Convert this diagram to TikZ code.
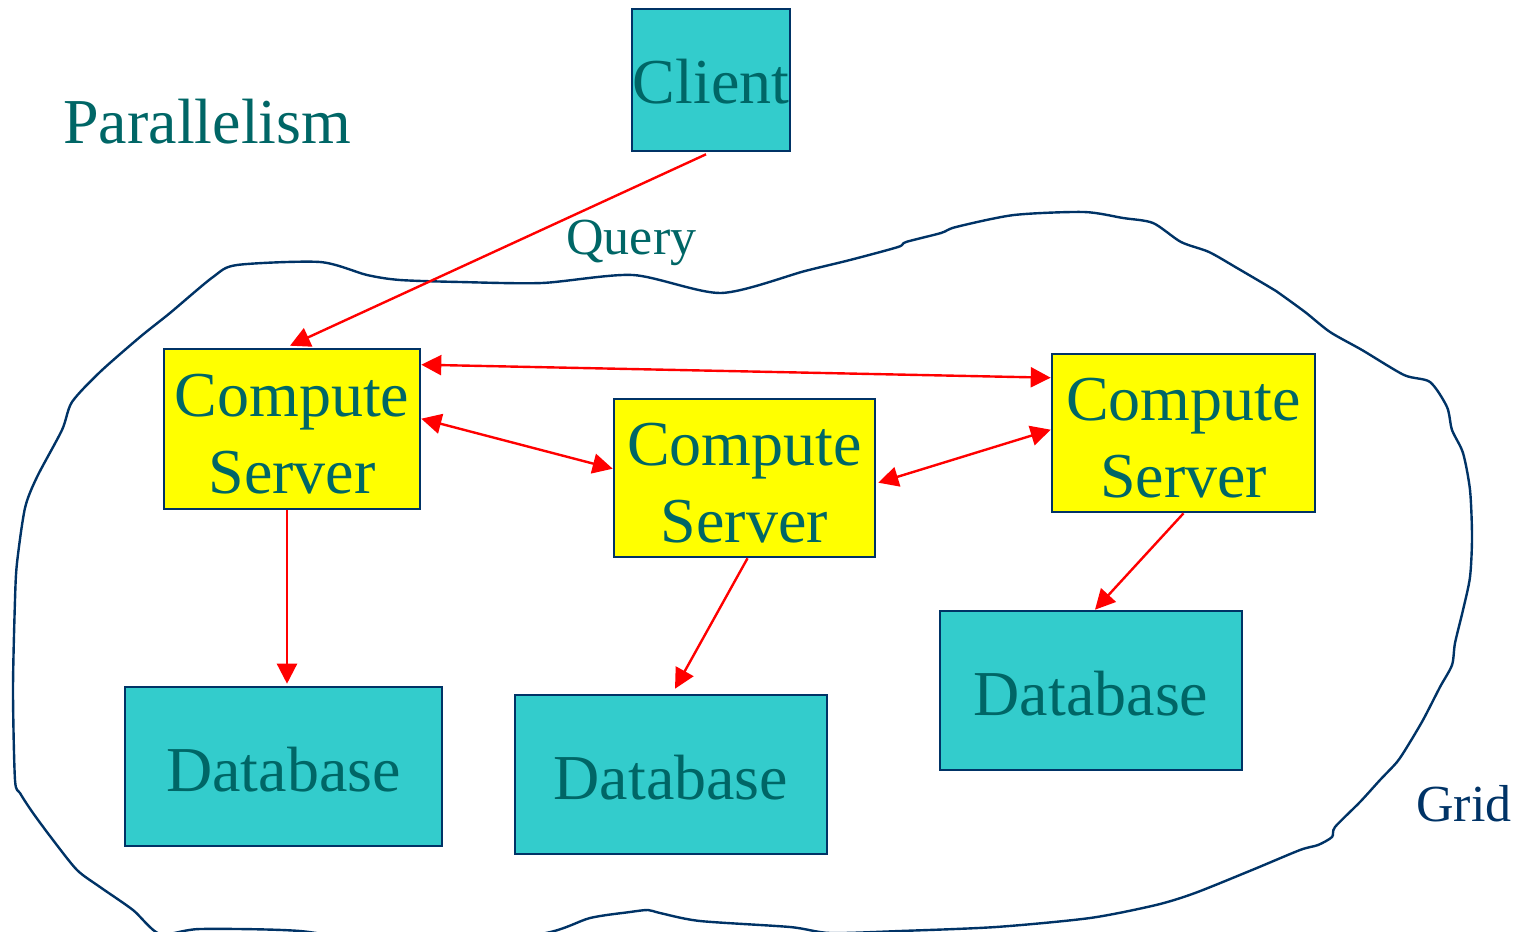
\documentclass[tikz,border=0pt]{standalone}
\usepackage{fontspec}
\setmainfont{Liberation Serif}
\usetikzlibrary{arrows.meta,calc}
\definecolor{tealtext}{HTML}{006666}
\definecolor{cyanfill}{HTML}{33CCCC}
\definecolor{dblue}{HTML}{003366}
\definecolor{yel}{HTML}{FFFF00}
\definecolor{redline}{HTML}{FF0000}
\newcommand{\hstrut}[1]{\rule{0pt}{#1}}
\tikzset{
  boxbase/.style={draw=dblue, line width=1.3pt, inner sep=0pt, text=tealtext, align=center,
    font=\fontsize{32}{38.5}\selectfont},
  srv/.style={boxbase, fill=yel},
  dbbox/.style={boxbase, fill=cyanfill},
  conn/.style={draw=redline, line width=1.2pt, -{Triangle[length=10pt,width=10pt]}},
  biconn/.style={draw=redline, line width=1.2pt, {Triangle[length=10pt,width=10pt]}-{Triangle[length=10pt,width=10pt]}},
  blobline/.style={draw=dblue, line width=1.2pt},
}
\begin{document}
\begin{tikzpicture}[x=0.5pt,y=-0.5pt]
\useasboundingbox (0,0) rectangle (1529,931);
% grid outline
\begin{scope}
\clip (0,0) rectangle (1529,931);
\draw[blobline] plot[smooth cycle, tension=0.45] coordinates {
(72,402) (100,372) (140,337) (170,313) (213,277) (237,265) (320,262) (367,275) (400,280) (460,282) (542,283) (633,275) (721,293) (805,271) (850,260) (898,247) (906,242) (941,233) (956,227) (1014,215) (1084,212) (1123,218) (1153,223) (1181,242) (1209,252) (1237,268) (1266,285) (1276,291) (1305,312) (1330,332) (1362,350) (1404,375) (1430,382) (1447,407) (1452,430) (1463,453) (1470,490) (1472,537) (1470,577) (1463,610) (1455,643) (1452,665) (1440,687) (1423,720) (1407,747) (1397,762) (1380,780) (1360,802) (1335,827) (1332,837) (1318,845) (1300,850) (1252,870) (1195,893) (1156,905) (1090,918) (996,927) (900,931) (830,933) (790,927) (700,921) (660,913) (648,910) (630,912) (590,918) (540,934) (400,945) (300,931) (200,929) (160,934) (133,910) (100,887) (77,870) (53,840) (33,813) (20,793) (15,780) (13,690) (15,600) (17,563) (25,508) (37,477) (62,430)};
\end{scope}
% labels
\node[anchor=base west, text=tealtext, font=\fontsize{32}{38}\selectfont, inner sep=0pt] (par) at (63,143) {Parallelism};
\node[anchor=base west, text=tealtext, font=\fontsize{26}{30}\selectfont, inner sep=0pt] (qry) at (566,254) {Query};
\node[anchor=base west, text=dblue, font=\fontsize{26}{30}\selectfont, inner sep=0pt] (grd) at (1416,821) {Grid};
% nodes
\node[dbbox, minimum width=79pt, minimum height=71pt] (client) at (711,80) {\hstrut{24pt}Client};
\node[srv, minimum width=128pt, minimum height=80pt] (cs1) at (292,429) {\hstrut{26pt}Compute\\Server};
\node[srv, minimum width=130.5pt, minimum height=79pt] (cs2) at (744.5,478) {\hstrut{26pt}Compute\\Server};
\node[srv, minimum width=131.5pt, minimum height=79pt] (cs3) at (1183.5,433) {\hstrut{26pt}Compute\\Server};
\node[dbbox, minimum width=158.5pt, minimum height=79.5pt] (db1) at (283.5,766.5) {\hstrut{25pt}Database};
\node[dbbox, minimum width=156pt, minimum height=79.5pt] (db2) at (671,774.5) {\hstrut{25pt}Database};
\node[dbbox, minimum width=151pt, minimum height=79.5pt] (db3) at (1091,690.5) {\hstrut{25pt}Database};
% connectors
\draw[conn] ($(client.south)+(-5,2)$) -- ($(cs1.north)+(-2,-2)$);
\draw[biconn] ($(cs1.north east)+(0,17)$) -- ($(cs3.north west)+(0,25)$);
\draw[biconn] ($(cs1.north east)+(0,71)$) -- ($(cs2.north west)+(0,71)$);
\draw[biconn] ($(cs2.north east)+(2,85)$) -- ($(cs3.north west)+(0,77)$);
\draw[conn] ($(cs1.south)+(-5,0)$) -- ($(db1.north)+(3.5,-2)$);
\draw[conn] ($(cs2.south)+(3,0)$) -- ($(db2.north)+(4,-5)$);
\draw[conn] (cs3.south) -- ($(db3.north)+(4,0)$);
\end{tikzpicture}
\end{document}
